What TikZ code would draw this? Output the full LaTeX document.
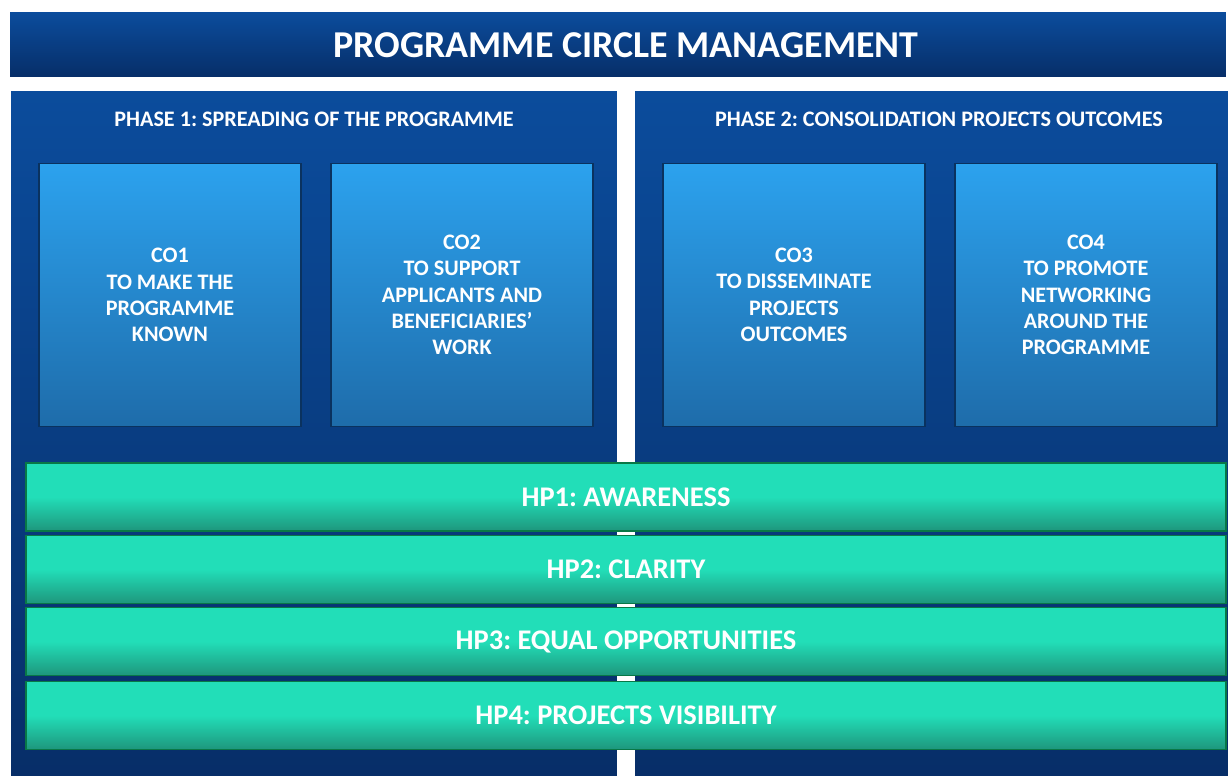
\documentclass[tikz,border=0pt]{standalone}
\usepackage{fontspec}
\setmainfont{Carlito}
\definecolor{bandtop}{RGB}{11,76,156}
\definecolor{bandbot}{RGB}{7,46,104}
\definecolor{cotop}{RGB}{44,162,238}
\definecolor{cobot}{RGB}{30,108,170}
\definecolor{coedge}{RGB}{10,50,95}
\definecolor{hpmain}{RGB}{34,222,184}
\definecolor{hpbot}{RGB}{30,150,124}
\definecolor{hpedge}{RGB}{8,120,70}
\begin{document}
\frenchspacing
\begin{tikzpicture}[x=0.02cm,y=-0.02cm,
    band/.style={rectangle,inner sep=0pt,top color=bandtop,bottom color=bandbot,draw=none},
    cobox/.style={rectangle,inner sep=0pt,minimum width=5.24cm,minimum height=5.26cm,
      top color=cotop,bottom color=cobot,draw=coedge,line width=0.8pt,
      text=white,font=\bfseries\fontsize{12.6}{15}\selectfont,align=center},
    hpbar/.style={rectangle,inner sep=0pt,minimum width=24cm,minimum height=1.36cm,
      top color=hpmain,bottom color=hpbot,middle color=hpmain,draw=hpedge,line width=0.8pt,
      text=white,font=\bfseries\fontsize{16.2}{18}\selectfont},
    phaselbl/.style={text=white,font=\bfseries\fontsize{12.6}{14}\selectfont}]
  \useasboundingbox[fill=white] (0,0) rectangle (1228,776);
  % title and the two phase panels
  \node[band,minimum width=24.32cm,minimum height=1.28cm,text=white,
    font=\bfseries\fontsize{21.6}{24}\selectfont] (title) at (618,45) {\hspace*{0.32cm}PROGRAMME CIRCLE MANAGEMENT};
  \node[band,minimum width=12.12cm,minimum height=13.7cm] (ph1) at (314,433.5) {};
  \node[band,minimum width=11.86cm,minimum height=13.7cm] (ph2) at (931.5,433.5) {};
  \node[phaselbl] (ph1lbl) at (314,119) {PHASE 1: SPREADING OF THE PROGRAMME};
  \node[phaselbl] (ph2lbl) at (939,119) {PHASE 2: CONSOLIDATION PROJECTS OUTCOMES};
  % communication objectives
  \node[cobox] (co1) at (170,295) {CO1\\TO MAKE THE\\PROGRAMME\\KNOWN};
  \node[cobox] (co2) at (462,295) {CO2\\TO SUPPORT\\APPLICANTS AND\\BENEFICIARIES'\\WORK};
  \node[cobox] (co3) at (794,295) {CO3\\TO DISSEMINATE\\PROJECTS\\OUTCOMES};
  \node[cobox] (co4) at (1086,295) {CO4\\TO PROMOTE\\NETWORKING\\AROUND THE\\PROGRAMME};
  % horizontal principles
  \node[hpbar] (hp1) at (626,497) {HP1: AWARENESS};
  \node[hpbar] (hp2) at (626,569.5) {HP2: CLARITY};
  \node[hpbar] (hp3) at (626,641.5) {HP3: EQUAL OPPORTUNITIES};
  \node[hpbar] (hp4) at (626,715.5) {HP4: PROJECTS VISIBILITY};
\end{tikzpicture}
\end{document}
